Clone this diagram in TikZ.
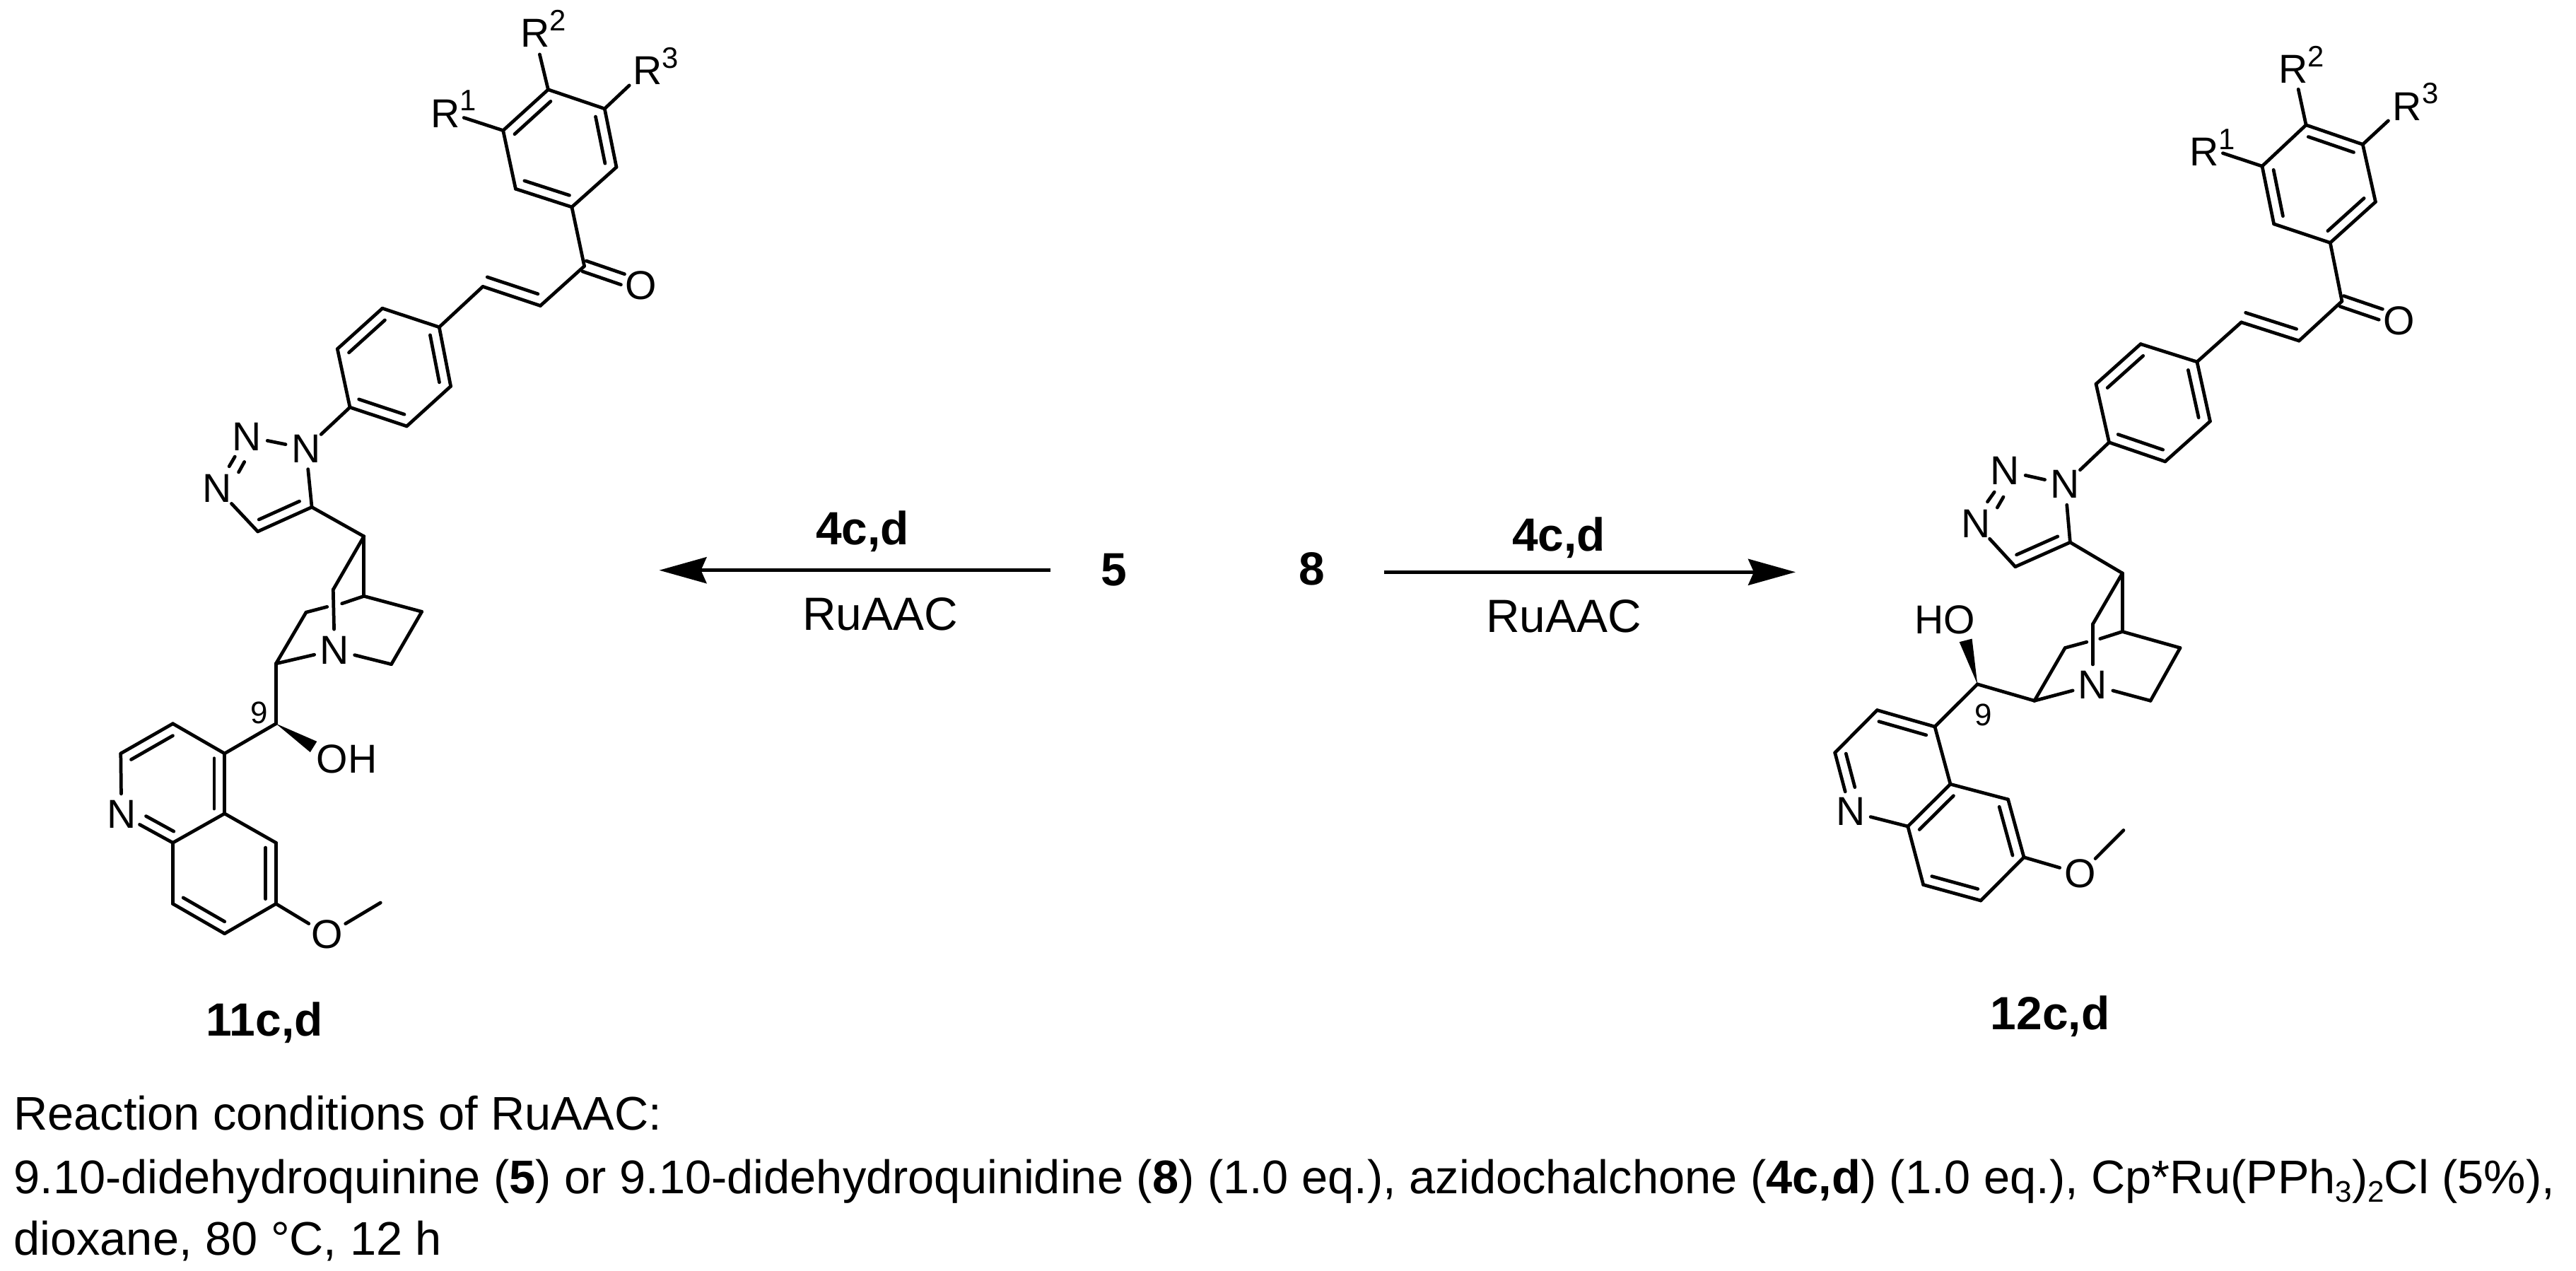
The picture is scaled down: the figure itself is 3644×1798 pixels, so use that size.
\documentclass[tikz,border=0pt]{standalone}
\usepackage{fontspec}
\setmainfont{Liberation Sans}
\usetikzlibrary{calc,arrows.meta}
\newcommand{\PC}[3]{\coordinate (#1) at (#2,#3);}
\newcommand{\PA}[4]{\node[atom] (#1) at (#2,#3) {#4};}
\newcommand{\PR}[4]{\node[rlab] (#1) at (#2-21,#3+21) {R\raisebox{13.3pt}{\fontsize{23.8}{23.8}\selectfont #4}};}
\newcommand{\PS}[1]{\raisebox{-7.2pt}{\fontsize{24}{24}\selectfont #1}}
\newcommand{\PD}[5]{\draw[bond] ($(#1)!#4!(#2)!8.4pt!#3:(#2)$) -- ($(#2)!#5!(#1)!8.4pt!-#3:(#1)$);}
\newcommand{\PCO}[2]{\draw[bond] ($(#1)!4.5pt!90:(#2)$) -- ($(#1)!.68!(#2)!4.5pt!90:(#2)$);
 \draw[bond] ($(#1)!4.5pt!-90:(#2)$) -- ($(#1)!.68!(#2)!4.5pt!-90:(#2)$);}
\newcommand{\PMol}[1]{%
 \foreach \a/\b in {a1/a2,a2/a3,a3/a4,a4/a5,a5/a6,a6/a1,a5/co,co/ca,ca/cb,cb/b1,b1/b2,b2/b3,b3/b4,b4/b5,b5/b6,b6/b1,
   b4/n1,n1/n2,n3/ch,ch/c5,c5/n1,c5/u1,u1/u2,u1/u3,u2/un,u3/u4,u4/u5,u5/un,un/u7,u7/u6,u6/gl,gr/u3,u7/c9,c9/q4,
   q4/q3,q3/q2,q2/qn,qn/q8a,q8a/q4a,q4a/q4,q4a/q5,q5/q6,q6/q7,q7/q8,q8/q8a,q6/ox,ox/me,
   a1/e1,a2/e2,a3/e3}
   {\draw[bond] (#1\a) -- (#1\b);}
 \PCO{#1co}{#1o}
 \PD{#1cb}{#1ca}{90}{.02}{.1}
 \PD{#1b6}{#1b1}{90}{.1}{.1}
 \PD{#1b2}{#1b3}{90}{.1}{.1}
 \PD{#1b4}{#1b5}{90}{.1}{.1}
 \PD{#1ch}{#1c5}{90}{.1}{.15}
 \draw[bond] (#1t1) -- (#1t2);
 \draw[bond] (#1t3) -- (#1t4);
 \fill (#1c9) -- (#1w1) -- (#1w2) -- cycle;
}
\tikzset{
 bond/.style={line width=2.7pt,line cap=round,line join=round},
 atom/.style={circle,inner sep=0pt,minimum size=1.16cm,font=\fontsize{32.5}{32.5}\selectfont},
 rlab/.style={anchor=base west,inner sep=0pt,font=\fontsize{32.5}{32.5}\selectfont},
 plain/.style={anchor=base,inner sep=0pt,font=\fontsize{37.5}{37.5}\selectfont},
 bodyline/.style={anchor=base west,inner sep=0pt,font=\fontsize{38}{38}\selectfont},
 small/.style={inner sep=0pt,font=\fontsize{25}{25}\selectfont},
 arrowline/.style={line width=2.7pt,-{Stealth[length=67*0.02cm,width=37*0.02cm,inset=8*0.02cm]}}
}
\begin{document}
\begin{tikzpicture}[x=0.02cm,y=-0.02cm]
\fill[white] (0,0) rectangle (3644,1798);
\useasboundingbox (0,0) rectangle (3644,1798);
% ---------- left molecule
\PC{La1}{711.7}{184.6}\PC{La2}{775.4}{126.7}\PC{La3}{855.3}{153.8}\PC{La4}{872}{236.5}\PC{La5}{808.9}{292.9}\PC{La6}{729.4}{267.2}
\PC{Lco}{826.6}{376.5}\PA{Lo}{906.5}{404}{O}\PC{Lca}{764.4}{432.5}\PC{Lcb}{683}{405.4}
\PC{Lb1}{621.3}{462.8}\PC{Lb2}{540.9}{436.2}\PC{Lb3}{477.3}{493.6}\PC{Lb4}{495}{576.2}\PC{Lb5}{575.4}{602.9}\PC{Lb6}{637.6}{546.4}
\PA{Ln1}{432.8}{634.5}{N}\PA{Ln2}{349.5}{617.5}{N}\PA{Ln3}{307.4}{691}{N}
\PC{Lc5}{441.1}{717.4}\PC{Lch}{364.6}{751.9}
\PC{Lu1}{514.8}{758.8}\PC{Lu2}{471.3}{834.1}\PC{Lu3}{514.8}{843.3}\PC{Lu4}{596.7}{865.3}\PC{Lu5}{553.6}{939.7}
\PA{Lun}{473.2}{919.5}{N}\PC{Lu6}{433}{866.2}\PC{Lu7}{390.4}{938.8}\PC{Lgl}{462.7}{858.4}\PC{Lgr}{483.7}{853.8}
\PC{Lc9}{390.4}{1023.7}\PC{Lw1}{448.3}{1048.9}\PC{Lw2}{438.8}{1064.1}
\node[atom] (Loh) at (490.4,1074.2) {OH};
\node[small] (Lnine) at (367,1008.5) {9};
\PC{Lq4}{317.7}{1065.9}\PC{Lq3}{244.5}{1023.7}\PC{Lq2}{170.8}{1065.9}\PA{Lqn}{171.8}{1152.3}{N}
\PC{Lq8a}{244.5}{1192.2}\PC{Lq4a}{317.7}{1150.9}\PC{Lq5}{390.4}{1192.2}\PC{Lq6}{390.4}{1278.5}\PC{Lq7}{317.7}{1320.7}\PC{Lq8}{244.5}{1278.5}
\PA{Lox}{462.7}{1322.2}{O}\PC{Lme}{538.3}{1277}
\PC{Lt1}{324.2}{659.8}\PC{Lt2}{332.3}{646}\PC{Lt3}{337.6}{668}\PC{Lt4}{345.7}{653.4}
\PC{Le1}{656.2}{166.5}\PC{Le2}{763.4}{76.9}\PC{Le3}{890.2}{120.8}
\PR{Lr1}{630}{159.2}{1}\PR{Lr2}{757}{45.8}{2}\PR{Lr3}{916}{98.7}{3}
\PMol{L}
\PD{La1}{La2}{-90}{.1}{.1}\PD{La3}{La4}{-90}{.1}{.1}\PD{La5}{La6}{-90}{.1}{.1}
\PD{Lq3}{Lq2}{90}{.1}{.1}\PD{Lq4}{Lq4a}{-90}{.08}{.08}\PD{Lqn}{Lq8a}{90}{.38}{.08}\PD{Lq5}{Lq6}{-90}{.08}{.08}\PD{Lq8}{Lq7}{90}{.1}{.1}
% ---------- right molecule
\PC{Ra1}{3200}{235.1}\PC{Ra2}{3262.1}{176.8}\PC{Ra3}{3342.3}{204.3}\PC{Ra4}{3360.4}{285.6}\PC{Ra5}{3296.3}{343.4}\PC{Ra6}{3216.6}{316.8}
\PC{Rco}{3312.9}{426.1}\PA{Ro}{3393.6}{453.6}{O}\PC{Rca}{3252.2}{482.1}\PC{Rcb}{3170.5}{455.9}
\PC{Rb1}{3107.9}{511.9}\PC{Rb2}{3028.1}{486.7}\PC{Rb3}{2965}{543.2}\PC{Rb4}{2983.5}{625.8}\PC{Rb5}{3062.8}{652.9}\PC{Rb6}{3126.4}{596}
\PA{Rn1}{2921.2}{685}{N}\PA{Rn2}{2836.5}{666}{N}\PA{Rn3}{2794.7}{740.6}{N}
\PC{Rc5}{2928.4}{767.2}\PC{Rch}{2850.8}{801.7}
\PC{Ru1}{3002.3}{810.9}\PC{Ru2}{2960.5}{882.9}\PC{Ru3}{3002.3}{893.5}\PC{Ru4}{3084}{916.5}\PC{Ru5}{3042.1}{991.3}
\PA{Run}{2960.5}{969.3}{N}\PC{Ru6}{2921.2}{916.5}\PC{Ru7}{2877.9}{991.3}\PC{Rgl}{2951.8}{908.2}\PC{Rgr}{2970.7}{903.6}
\PC{Rc9}{2797.2}{967.9}\PC{Rw1}{2771.7}{908.2}\PC{Rw2}{2789.6}{903.6}
\node[atom] (Roh) at (2751.3,876.5) {HO};
\node[small] (Rnine) at (2805.9,1011.5) {9};
\PC{Rq4}{2737}{1028}\PC{Rq3}{2655.4}{1004.6}\PC{Rq2}{2595.7}{1064.8}\PA{Rqn}{2617.7}{1148.3}{N}
\PC{Rq8a}{2698.8}{1169}\PC{Rq4a}{2759}{1109.3}\PC{Rq5}{2840.6}{1130.9}\PC{Rq6}{2863}{1212.7}\PC{Rq7}{2802}{1274}\PC{Rq8}{2720.7}{1251.6}
\PA{Rox}{2942.7}{1236}{O}\PC{Rme}{3003.9}{1174.5}
\PC{Rt1}{2811.5}{709.8}\PC{Rt2}{2821.2}{696.1}\PC{Rt3}{2825.3}{718.1}\PC{Rt4}{2834}{703}
\PC{Re1}{3144.4}{216.7}\PC{Re2}{3251.2}{126.3}\PC{Re3}{3378.4}{170.8}
\PR{Rr1}{3118.3}{213.5}{1}\PR{Rr2}{3244}{96.4}{2}\PR{Rr3}{3405.5}{149.2}{3}
\PMol{R}
\PD{Ra2}{Ra3}{-90}{.1}{.1}\PD{Ra4}{Ra5}{-90}{.1}{.1}\PD{Ra6}{Ra1}{-90}{.1}{.1}
\PD{Rq3}{Rq4}{-90}{.08}{.1}\PD{Rq2}{Rqn}{90}{.06}{.37}\PD{Rq4a}{Rq8a}{90}{.1}{.1}\PD{Rq5}{Rq6}{-90}{.08}{.08}\PD{Rq8}{Rq7}{90}{.1}{.1}
% ---------- arrows and labels
\node[plain] (five) at (1575.7,828.3) {\textbf{5}};
\node[plain] (eight) at (1855.5,827.7) {\textbf{8}};
\coordinate (lsrc) at (1485.7,806.7);\coordinate (ldst) at (932.5,806.7);
\coordinate (rsrc) at (1957.5,809.3);\coordinate (rdst) at (2540,809.3);
\draw[arrowline] (lsrc) -- (ldst);
\draw[arrowline] (rsrc) -- (rdst);
\node[plain] (la) at (1220,770.7) {\textbf{4c,d}};
\node[plain] (lb) at (1245,891.7) {RuAAC};
\node[plain] (ra) at (2205,779) {\textbf{4c,d}};
\node[plain] (rb) at (2212,894.3) {RuAAC};
\node[plain] (p11) at (374.3,1465) {\textbf{11c,d}};
\node[plain] (p12) at (2900,1456.7) {\textbf{12c,d}};
\node[bodyline] (c1) at (19,1598.7) {Reaction conditions of RuAAC:};
\node[bodyline] (c2) at (19,1688) {9.10-didehydroquinine (\textbf{5}) or 9.10-didehydroquinidine (\textbf{8}) (1.0 eq.), azidochalchone (\textbf{4c,d}) (1.0 eq.), Cp*Ru(PPh\PS{3})\PS{2}Cl (5\%),};
\node[bodyline] (c3) at (19,1775.3) {dioxane, 80 °C, 12 h};
\end{tikzpicture}
\end{document}
